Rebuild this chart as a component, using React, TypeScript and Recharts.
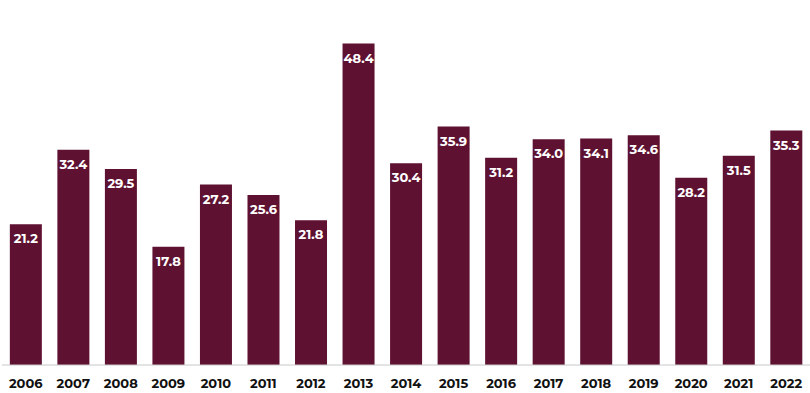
import React from 'react';
import { BarChart, Bar, XAxis, YAxis, LabelList } from 'recharts';

const years = ['2006','2007','2008','2009','2010','2011','2012','2013','2014','2015','2016','2017','2018','2019','2020','2021','2022'];
const values = [21.2,32.4,29.5,17.8,27.2,25.6,21.8,48.4,30.4,35.9,31.2,34.0,34.1,34.6,28.2,31.5,35.3];

const data = years.map((y, i) => ({ year: y, value: values[i] }));

const FONT = 'Montserrat, "Open Sans", Lato, sans-serif';

export default function App() {
  return (
    <div style={{ position: 'absolute', left: 0, top: 0, width: 810, height: 393, background: '#fff' }}>
      <BarChart width={810} height={393} data={data} margin={{ top: 33, right: 0, left: 2, bottom: 0 }} barCategoryGap="16.5%">
        <XAxis
          dataKey="year"
          axisLine={{ stroke: '#c8c8c8' }}
          tickLine={false}
          tick={{ fill: '#111', fontSize: 13, fontWeight: 700, fontFamily: FONT }}
          height={28}
          tickMargin={8}
          interval={0}
        />
        <YAxis hide domain={[0, 50]} />
        <Bar dataKey="value" fill="#5e1131" isAnimationActive={false}>
          <LabelList
            dataKey="value"
            position="insideTop"
            offset={10}
            formatter={(v: number) => v.toFixed(1)}
            style={{ fill: '#fff', fontSize: 13, fontWeight: 700, fontFamily: FONT }}
          />
        </Bar>
      </BarChart>
    </div>
  );
}
